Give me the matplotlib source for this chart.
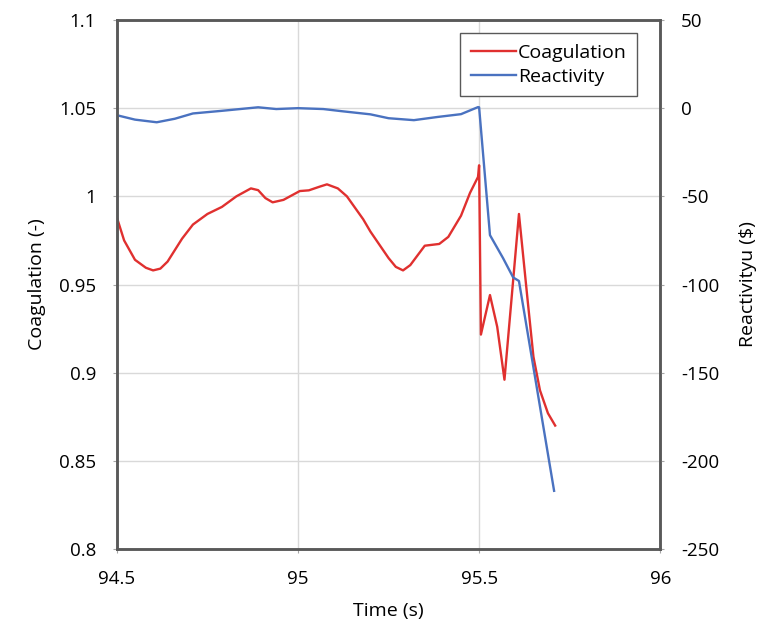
import matplotlib.pyplot as plt
from matplotlib.ticker import FixedLocator

plt.rcParams['font.family'] = ['Open Sans', 'DejaVu Sans']
plt.rcParams['axes.unicode_minus'] = False

# Coagulation (left axis)
t_coag = [94.5, 94.52, 94.55, 94.58, 94.6, 94.62, 94.64, 94.68, 94.71, 94.75,
          94.79, 94.83, 94.87, 94.89, 94.91, 94.93, 94.96, 95.005, 95.03, 95.06,
          95.08, 95.11, 95.135, 95.18, 95.2, 95.25, 95.27, 95.29, 95.31, 95.35,
          95.39, 95.415, 95.45, 95.475, 95.497, 95.5, 95.505, 95.53, 95.55, 95.57,
          95.61, 95.633, 95.65, 95.668, 95.69, 95.71]
coag = [0.988, 0.975, 0.964, 0.9595, 0.958, 0.959, 0.963, 0.976, 0.984, 0.990,
        0.994, 1.0, 1.0045, 1.0035, 0.999, 0.9966, 0.998, 1.003, 1.0034, 1.0055,
        1.0068, 1.0045, 1.0, 0.987, 0.980, 0.965, 0.960, 0.958, 0.961, 0.972,
        0.973, 0.977, 0.989, 1.002, 1.011, 1.0176, 0.9216, 0.944,
        0.926, 0.896, 0.990, 0.943, 0.909, 0.890, 0.877, 0.870]

# Reactivity (right axis)
t_reac = [94.5, 94.55, 94.61, 94.66, 94.71, 94.79, 94.89, 94.94, 95.0, 95.07,
          95.12, 95.2, 95.25, 95.32, 95.385, 95.45, 95.497, 95.5, 95.53, 95.566,
          95.594, 95.61, 95.707]
reac = [-4, -6.5, -8, -6, -3, -1.5, 0.5, -0.5, 0, -0.5,
        -1.7, -3.5, -5.7, -6.8, -5, -3.4, 0.6, 0.5, -72, -85,
        -96, -98, -217]

fig = plt.figure(figsize=(7.74, 6.25), dpi=100)
ax = fig.add_axes([0.151, 0.1216, 0.702, 0.8464])
ax2 = ax.twinx()

l1, = ax.plot(t_coag, coag, color='#e0302f', lw=1.7, label='Coagulation')
l2, = ax2.plot(t_reac, reac, color='#4a72c0', lw=1.7, label='Reactivity')

ax.set_xlim(94.5, 96)
ax.set_ylim(0.8, 1.1)
ax2.set_ylim(-250, 50)
ax.xaxis.set_major_locator(FixedLocator([94.5, 95, 95.5, 96]))
ax.yaxis.set_major_locator(FixedLocator([0.8, 0.85, 0.9, 0.95, 1.0, 1.05, 1.1]))
ax2.yaxis.set_major_locator(FixedLocator([-250, -200, -150, -100, -50, 0, 50]))
ax.set_xticklabels(['94.5', '95', '95.5', '96'])
ax.set_yticklabels(['0.8', '0.85', '0.9', '0.95', '1', '1.05', '1.1'])
ax2.set_yticklabels(['-250', '-200', '-150', '-100', '-50', '0', '50'])

ax.grid(True, color='#d9d9d9', lw=1)
ax.set_axisbelow(True)
for a in (ax, ax2):
    a.tick_params(length=3, color='#a6a6a6', labelsize=13.5, pad=12)
    for s in a.spines.values():
        s.set_color('#595959')
        s.set_linewidth(1.8)

ax.set_xlabel('Time (s)', fontsize=14, labelpad=10)
ax.set_ylabel('Coagulation (-)', fontsize=14, labelpad=9)
ax2.set_ylabel('Reactivityu ($)', fontsize=14, labelpad=14)

leg = ax2.legend(handles=[l1, l2], loc='upper right', bbox_to_anchor=(0.958, 0.975),
                 borderaxespad=0, fontsize=14, fancybox=False, edgecolor='#595959',
                 framealpha=1, handlelength=2.3, handletextpad=0.1, borderpad=0.55,
                 labelspacing=0.3)
leg.get_frame().set_linewidth(1.0)

plt.savefig('out.png', dpi=100)
